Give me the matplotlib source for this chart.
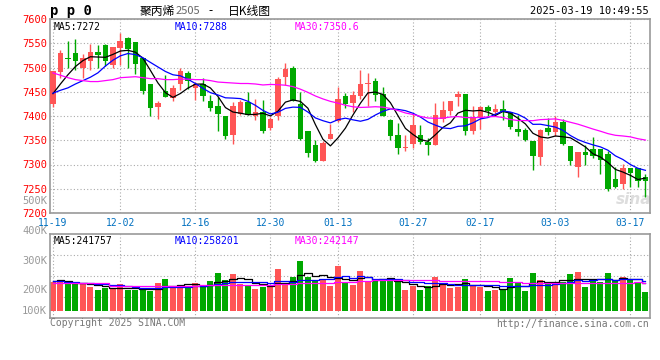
import numpy as np
import pandas as pd
import matplotlib
matplotlib.use("Agg")
import matplotlib.pyplot as plt

# daily candles, 2024-11-19 .. 2025-03-19 (80 trading days)
opens = [7424, 7490, 7519, 7530, 7498, 7513, 7532, 7547, 7505, 7541,
         7561, 7553, 7519, 7465, 7418, 7451, 7437, 7465, 7488, 7457,
         7467, 7431, 7420, 7400, 7360, 7404, 7428, 7400, 7409, 7376,
         7399, 7480, 7500, 7424, 7369, 7341, 7308, 7353, 7390, 7441,
         7427, 7441, 7466, 7473, 7446, 7392, 7360, 7333, 7343, 7361,
         7347, 7340, 7394, 7410, 7439, 7445, 7369, 7395, 7418, 7409,
         7414, 7409, 7373, 7371, 7349, 7315, 7376, 7368, 7388, 7339,
         7294, 7325, 7331, 7331, 7321, 7270, 7259, 7292, 7292, 7275]
highs = [7493, 7537, 7555, 7558, 7527, 7549, 7547, 7548, 7543, 7572,
         7563, 7553, 7519, 7465, 7431, 7485, 7463, 7500, 7492, 7470,
         7478, 7444, 7439, 7400, 7428, 7432, 7450, 7436, 7432, 7397,
         7481, 7509, 7503, 7450, 7369, 7350, 7348, 7384, 7459, 7448,
         7452, 7494, 7488, 7478, 7459, 7393, 7386, 7361, 7405, 7382,
         7354, 7426, 7430, 7431, 7451, 7445, 7421, 7421, 7423, 7424,
         7432, 7409, 7403, 7376, 7349, 7374, 7395, 7399, 7393, 7339,
         7325, 7341, 7357, 7331, 7327, 7295, 7302, 7292, 7292, 7280]
lows = [7418, 7478, 7498, 7495, 7479, 7494, 7498, 7504, 7498, 7505,
        7500, 7487, 7445, 7401, 7394, 7439, 7431, 7453, 7455, 7434,
        7431, 7411, 7369, 7352, 7342, 7403, 7402, 7392, 7365, 7371,
        7392, 7464, 7431, 7350, 7316, 7305, 7307, 7352, 7388, 7417,
        7409, 7436, 7421, 7430, 7399, 7351, 7322, 7327, 7333, 7343,
        7319, 7340, 7388, 7403, 7421, 7360, 7363, 7373, 7399, 7400,
        7392, 7373, 7358, 7348, 7288, 7300, 7360, 7358, 7341, 7299,
        7274, 7299, 7314, 7281, 7246, 7251, 7249, 7254, 7253, 7232]
closes = [7492, 7529, 7517, 7513, 7520, 7532, 7526, 7514, 7543, 7555,
          7539, 7507, 7452, 7417, 7426, 7439, 7458, 7492, 7473, 7466,
          7441, 7417, 7405, 7358, 7420, 7429, 7402, 7408, 7369, 7393,
          7477, 7496, 7431, 7353, 7323, 7308, 7345, 7363, 7435, 7424,
          7443, 7467, 7469, 7444, 7399, 7358, 7334, 7337, 7382, 7346,
          7340, 7402, 7412, 7430, 7446, 7369, 7395, 7418, 7410, 7414,
          7409, 7378, 7366, 7351, 7318, 7371, 7367, 7387, 7343, 7307,
          7325, 7319, 7317, 7309, 7250, 7254, 7292, 7283, 7266, 7265]
volumes = [246200, 246200, 234800, 234800, 229000, 206100, 180400, 191800, 183200, 229000,
           177500, 180400, 177500, 171800, 237600, 272000, 206100, 206100, 214700, 237600,
           206100, 254800, 323500, 263400, 314900, 229000, 214700, 186100, 206100, 206100,
           357900, 234800, 289200, 426600, 289200, 263400, 263400, 214700, 386500, 243400,
           220500, 343600, 254800, 263400, 263400, 263400, 243400, 177500, 214700, 177500,
           214700, 289200, 234800, 194700, 206100, 272000, 211900, 206100, 168900, 177500,
           177500, 280600, 234800, 168900, 323500, 263400, 234800, 246200, 246200, 314900,
           332100, 203300, 272000, 246200, 323500, 257700, 289200, 263400, 234800, 163200]

# moving averages before the window fills
ma5_head = [7446, 7466, 7485, 7502]
ma10_head = [7447, 7453, 7458, 7466, 7473, 7480, 7489, 7503, 7515]
ma30_head = [7489, 7484, 7479, 7475, 7473, 7471, 7471, 7473, 7475, 7479,
             7480, 7481, 7479, 7477, 7477, 7475, 7475, 7476, 7476, 7475,
             7475, 7473, 7470, 7469, 7468, 7467, 7467, 7466, 7464]
vma5_head = [252000, 260500, 254800, 240500]
vma10_head = [252000, 252000, 249000, 243000, 238000, 235000, 229000, 226000, 220500]
vma30_head = [234800] * 8 + [214700] * 12 + [220500] * 9

tick_labels = ["11-19", "12-02", "12-16", "12-30", "01-13", "01-27", "02-17", "03-03", "03-17"]
tick_index = [0, 9, 19, 29, 38, 48, 57, 67, 77]
price_ticks = [7600, 7550, 7500, 7450, 7400, 7350, 7300, 7250, 7200]

RED = "#ff5555"
GREEN = "#00a800"
GRID = "#aaaaaa"
FRAME = "#999999"
MONO = "DejaVu Sans Mono"


def ma(values, n, head):
    s = pd.Series(values, dtype=float).rolling(n).mean()
    s.iloc[:n - 1] = head
    return s.values


def fx(px):
    return px / 660.0


def fy(py):
    return 1 - py / 360.0


fig = plt.figure(figsize=(6.6, 3.6), dpi=100)
fig.patch.set_facecolor("white")

x = np.arange(len(closes))
o = np.array(opens); c = np.array(closes)
up = c >= o
col = np.where(up, RED, GREEN)
xlim = (-0.39, 79.61)

# price panel
ax = fig.add_axes([fx(50), fy(213), fx(600), (213 - 19) / 360.0])
ax.vlines(x, lows, highs, colors=col, linewidth=1.0, zorder=2)
body_h = np.maximum(np.abs(c - o), 0.8)
ax.bar(x, body_h, bottom=np.minimum(o, c), width=0.78, color=col, linewidth=0, zorder=3)
ax.plot(x, ma(closes, 5, ma5_head), color="black", linewidth=0.9, zorder=4)
ax.plot(x, ma(closes, 10, ma10_head), color="#0000ff", linewidth=0.9, zorder=4)
ax.plot(x, ma(closes, 30, ma30_head), color="#ff00ff", linewidth=0.9, zorder=4)
ax.set_xlim(*xlim)
ax.set_ylim(7200, 7600)
ax.set_yticks(price_ticks)
ax.set_yticklabels([str(v) for v in price_ticks], color="#ff0000", fontsize=7.5, family=MONO)
ax.set_xticks(tick_index)
ax.set_xticklabels(tick_labels, color="#0070c0", fontsize=7, family=MONO)
ax.tick_params(axis="y", length=0, pad=2)
ax.tick_params(axis="x", length=0, pad=3.5)
ax.grid(True, color=GRID, linestyle=(0, (1, 2)), linewidth=0.8)
for s in ax.spines.values():
    s.set_color(FRAME)
    s.set_linewidth(1.2)
ax.text(0.006, 0.985, "MA5:7272", transform=ax.transAxes, va="top", fontsize=7, family=MONO, color="black")
ax.text(0.207, 0.985, "MA10:7288", transform=ax.transAxes, va="top", fontsize=7, family=MONO, color="#0000ff")
ax.text(0.408, 0.985, "MA30:7350.6", transform=ax.transAxes, va="top", fontsize=7, family=MONO, color="#ff00ff")
ax.text(0.972, 0.07, "sina", transform=ax.transAxes, ha="center", va="center", fontsize=11,
        fontstyle="italic", fontweight="bold", color="#dddddd", zorder=1)

# volume panel
vax = fig.add_axes([fx(50), fy(317.7), fx(600), (317.7 - 234.3) / 360.0])
vax.bar(x, volumes, width=0.8, color=col, linewidth=0, zorder=2)
vax.plot(x, ma(volumes, 5, vma5_head), color="black", linewidth=0.9, drawstyle="steps-mid", zorder=3)
vax.plot(x, ma(volumes, 10, vma10_head), color="#0000ff", linewidth=0.9, drawstyle="steps-mid", zorder=3)
vax.plot(x, ma(volumes, 30, vma30_head), color="#ff00ff", linewidth=0.9, drawstyle="steps-mid", zorder=3)
vax.set_xlim(*xlim)
vlo, vhi = -60000, 656000
vax.set_ylim(vlo, vhi)
vax.set_yticks([vlo + (vhi - vlo) * f for f in (0.25, 0.5, 0.75)])
vax.set_yticklabels([])
vax.set_xticks(tick_index)
vax.set_xticklabels([])
vax.tick_params(length=0)
vax.grid(True, color=GRID, linestyle=(0, (1, 2)), linewidth=0.8)
for s in vax.spines.values():
    s.set_color(FRAME)
    s.set_linewidth(1.2)
vax.text(0.006, 0.98, "MA5:241757", transform=vax.transAxes, va="top", fontsize=7, family=MONO, color="black")
vax.text(0.207, 0.98, "MA10:258201", transform=vax.transAxes, va="top", fontsize=7, family=MONO, color="#0000ff")
vax.text(0.408, 0.98, "MA30:242147", transform=vax.transAxes, va="top", fontsize=7, family=MONO, color="#ff00ff")

# volume scale labels as printed by the source chart
for lab, py in [("500K", 200.7), ("400K", 231), ("300K", 260.7), ("200K", 290.3), ("100K", 310.7)]:
    fig.text(fx(47), fy(py), lab, ha="right", va="center", fontsize=7.5, family=MONO, color="#999999")

# header
fig.text(fx(50), fy(11), "p p 0", ha="left", va="center", fontsize=10, family=MONO, fontweight="bold")
cjk = ["Noto Sans CJK SC", "DejaVu Sans"]
fig.text(fx(140), fy(11), "聚丙烯", ha="left", va="center", fontsize=8.5, family=cjk)
fig.text(fx(176), fy(11), "2505", ha="left", va="center", fontsize=8, family=cjk, color="#666666")
fig.text(fx(208), fy(11), "-", ha="left", va="center", fontsize=8.5, family=cjk)
fig.text(fx(228), fy(11), "日K线图", ha="left", va="center", fontsize=8.5, family=cjk)
fig.text(fx(649), fy(11), "2025-03-19 10:49:55", ha="right", va="center", fontsize=7.5, family=MONO)

# footer
fig.text(fx(50), fy(323.5), "Copyright 2025 SINA.COM", ha="left", va="center", fontsize=7, family=MONO, color="#777777")
fig.text(fx(649), fy(324), "http://finance.sina.com.cn", ha="right", va="center", fontsize=7, family=MONO, color="#777777")

fig.savefig("out.png", dpi=100, facecolor="white")
